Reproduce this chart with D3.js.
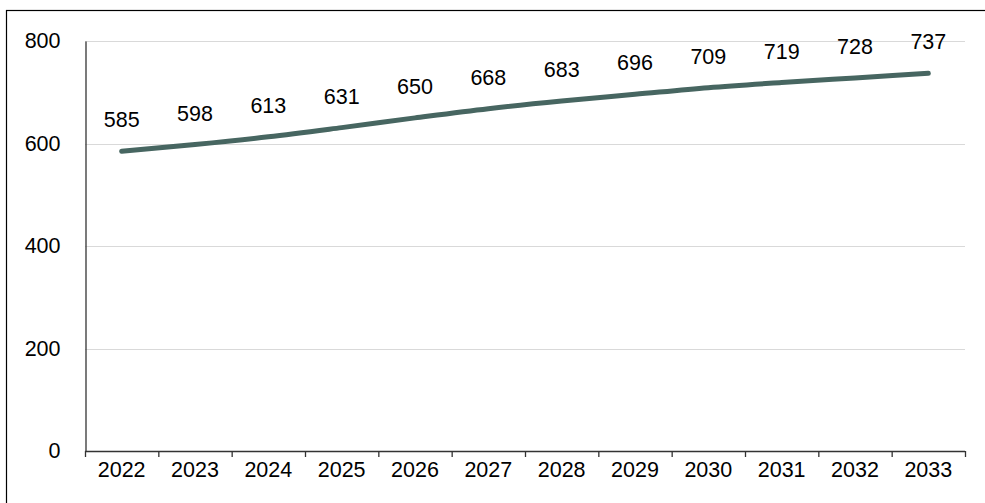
<!DOCTYPE html>
<html>
<head>
<meta charset="utf-8">
<script src="https://cdn.jsdelivr.net/npm/d3@7"></script>
<style>
  html, body { margin: 0; padding: 0; background: #ffffff; }
  svg { display: block; }
  text { font-family: "Liberation Sans", Arial, sans-serif; fill: #000; }
</style>
</head>
<body>
<svg id="chart" width="985" height="503"></svg>
<script>
const categories = ["2022","2023","2024","2025","2026","2027","2028","2029","2030","2031","2032","2033"];
const values = [585, 598, 613, 631, 650, 668, 683, 696, 709, 719, 728, 737];
const yTicks = [0, 200, 400, 600, 800];

const W = 985, H = 503;
const margin = {left: 85, right: 20, top: 41, bottom: 52};
const svg = d3.select("#chart");

// outer border
svg.append("rect")
  .attr("x", 6.5).attr("y", 10.5)
  .attr("width", 990).attr("height", 510)
  .attr("fill", "none").attr("stroke", "#000").attr("stroke-width", 1.2);

const x = d3.scaleBand().domain(categories).range([85, 965]).paddingInner(0).paddingOuter(0);
const y = d3.scaleLinear().domain([0, 800]).range([451, 41]);

// gridlines
svg.append("g").selectAll("line").data(yTicks.filter(d => d > 0)).join("line")
  .attr("x1", 85).attr("x2", 965)
  .attr("y1", d => Math.round(y(d)) + 0.5).attr("y2", d => Math.round(y(d)) + 0.5)
  .attr("stroke", "#d9d9d9").attr("stroke-width", 1);

// y axis
const yAxis = svg.append("g").attr("transform", "translate(85.5,0)")
  .call(d3.axisLeft(y).tickValues(yTicks).tickSize(0).tickPadding(25));
yAxis.select(".domain").attr("stroke", "#333").attr("stroke-width", 1.3);
yAxis.selectAll("text").style("font-size", "21.5px").style("font-family", "Liberation Sans, Arial, sans-serif").attr("fill", "#000");

// x axis
const xAxis = svg.append("g").attr("transform", "translate(0,451.5)")
  .call(d3.axisBottom(x).tickSize(0).tickPadding(10));
xAxis.select(".domain").attr("stroke", "#333").attr("stroke-width", 1.3)
  .attr("d", "M85,0H965");
xAxis.selectAll("text").style("font-size", "21.5px").style("font-family", "Liberation Sans, Arial, sans-serif").attr("fill", "#000");
// ticks between categories
const boundaries = categories.map(c => x(c)).concat([x(categories[categories.length-1]) + x.bandwidth()]);
svg.append("g").selectAll("line").data(boundaries).join("line")
  .attr("x1", d => d + 0.5).attr("x2", d => d + 0.5)
  .attr("y1", 451).attr("y2", 457)
  .attr("stroke", "#333").attr("stroke-width", 1.3);

// line
const cx = c => x(c) + x.bandwidth() / 2;
const line = d3.line()
  .x((d, i) => cx(categories[i]))
  .y(d => y(d))
  .curve(d3.curveMonotoneX);
svg.append("path").datum(values)
  .attr("d", line)
  .attr("fill", "none")
  .attr("stroke", "#476661")
  .attr("stroke-width", 5)
  .attr("stroke-linecap", "round")
  .attr("stroke-linejoin", "round");

// data labels
svg.append("g").selectAll("text").data(values).join("text")
  .attr("x", (d, i) => cx(categories[i]))
  .attr("y", d => y(d) - 24)
  .attr("text-anchor", "middle")
  .style("font-size", "21.5px")
  .text(d => d);
</script>
</body>
</html>
